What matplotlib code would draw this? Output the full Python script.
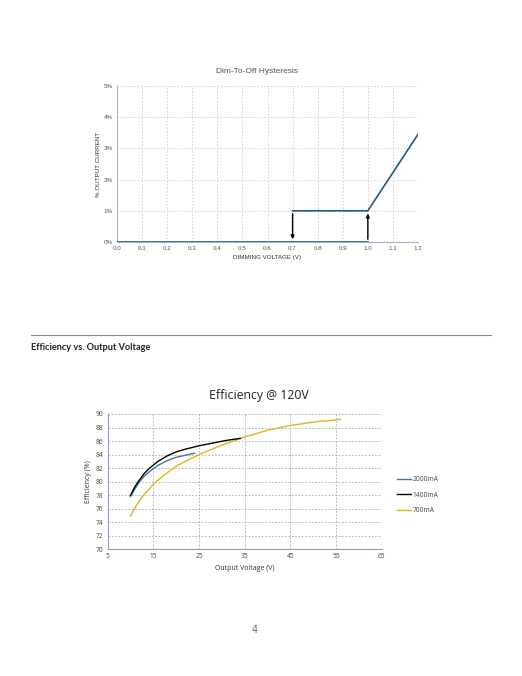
import matplotlib.pyplot as plt
from matplotlib.ticker import MultipleLocator, FuncFormatter

# Dim-to-off hysteresis data
dim_v = [0.0, 1.0]
dim_off = [0.0, 0.0]
dim_on_v = [0.7, 1.0, 1.2]
dim_on = [1.0, 1.0, 3.45]
arrow_down_x = 0.7
arrow_up_x = 1.0
hyst_level = 1.0

# Efficiency @ 120V data
v_2000 = [10, 11, 12, 13, 14, 16, 18, 20, 22, 24]
eff_2000 = [77.8, 79.0, 80.0, 80.8, 81.4, 82.4, 83.1, 83.6, 83.9, 84.2]
v_1400 = [10, 11, 12, 13, 14, 16, 18, 20, 22, 25, 28, 31, 34]
eff_1400 = [78.0, 79.3, 80.3, 81.2, 81.9, 83.0, 83.8, 84.4, 84.8, 85.3, 85.7, 86.1, 86.4]
v_700 = [10, 11, 12, 13, 15, 17, 20, 25, 30, 35, 40, 45, 50, 56]
eff_700 = [74.9, 76.2, 77.2, 78.1, 79.6, 80.8, 82.3, 84.0, 85.4, 86.6, 87.6, 88.3, 88.8, 89.2]

fig = plt.figure(figsize=(5.22, 6.76), dpi=100)

# ---- top chart ----
grey = '#555555'
ax1 = fig.add_axes([117/522, 1 - 242/676, 301/522, 156/676])
ax1.plot(dim_v, dim_off, color='#1d5a8a', lw=1.2, zorder=3)
ax1.plot(dim_on_v, dim_on, color='#1d5a8a', lw=1.2, zorder=3)
ax1.annotate('', xy=(arrow_down_x, 0.0), xytext=(arrow_down_x, hyst_level),
             arrowprops=dict(arrowstyle='-|>', color='black', lw=1.0, mutation_scale=5), zorder=4)
ax1.annotate('', xy=(arrow_up_x, hyst_level), xytext=(arrow_up_x, 0.0),
             arrowprops=dict(arrowstyle='-|>', color='black', lw=1.0, mutation_scale=5), zorder=4)
ax1.set_xlim(0, 1.2)
ax1.set_ylim(0, 5)
ax1.xaxis.set_major_locator(MultipleLocator(0.1))
ax1.yaxis.set_major_locator(MultipleLocator(1))
ax1.xaxis.set_major_formatter(FuncFormatter(lambda v, p: f'{v:.1f}'))
ax1.yaxis.set_major_formatter(FuncFormatter(lambda v, p: f'{v:.0f}%'))
ax1.grid(True, color='#cccccc', linestyle=(0, (2, 2)), linewidth=0.6)
for s in ['top', 'right']:
    ax1.spines[s].set_visible(False)
ax1.spines['left'].set_color('#9db4cc')
ax1.spines['bottom'].set_color('#9db4cc')
ax1.tick_params(length=0, labelsize=4.5, labelcolor=grey, pad=3)
for lab in ax1.get_xticklabels() + ax1.get_yticklabels():
    lab.set_family('Liberation Sans')
ax1.set_title('Dim-To-Off Hysteresis', fontsize=6, color=grey, family='Liberation Sans',
              pad=9, x=0.465)
ax1.set_xlabel('DIMMING VOLTAGE (V)', fontsize=4.5, color='#333333', family='Liberation Sans', labelpad=3)
ax1.set_ylabel('% OUTPUT CURRENT', fontsize=4.5, color='#333333', family='Liberation Sans', labelpad=2)

# ---- separator and section heading ----
fig.add_artist(plt.Line2D([31/522, 491/522], [1 - 335/676, 1 - 335/676], color='#888888', lw=0.8))
fig.text(31/522, 1 - 348/676, 'Efficiency vs. Output Voltage', fontsize=6.6, fontweight='bold',
         family='Lato', color='#222222', va='center')

# ---- bottom chart ----
ax2 = fig.add_axes([107.7/522, 1 - 549.3/676, 274/522, 135.3/676])
ax2.plot(v_2000, eff_2000, color='#3b78b0', lw=1.0, label='2000mA', zorder=3)
ax2.plot(v_1400, eff_1400, color='black', lw=1.0, label='1400mA', zorder=3)
ax2.plot(v_700, eff_700, color='#e2b31f', lw=1.0, label='700mA', zorder=2)
ax2.set_xlim(5, 65)
ax2.set_ylim(70, 90)
ax2.set_xticks([5, 15, 25, 35, 45, 55, 65])
ax2.set_yticks(range(70, 91, 2))
ax2.grid(True, color='#a8a8a8', linestyle=(0, (2, 2)), linewidth=0.6)
for s in ['top', 'right']:
    ax2.spines[s].set_visible(False)
ax2.spines['left'].set_color('#8aa2bc')
ax2.spines['bottom'].set_color('#8aa2bc')
ax2.tick_params(length=0, labelsize=4.8, labelcolor='#444444', pad=3)
for lab in ax2.get_xticklabels() + ax2.get_yticklabels():
    lab.set_family('Open Sans')
ax2.set_title('Efficiency @ 120V', fontsize=8.8, family='Open Sans', color='#222222',
              pad=11, x=0.55)
ax2.set_xlabel('Output Voltage (V)', fontsize=5, family='Open Sans', color='#333333', labelpad=3)
ax2.set_ylabel('Efficiency (%)', fontsize=5, family='Open Sans', color='#333333', labelpad=3)
ax2.legend(loc='center left', bbox_to_anchor=(1.035, 0.4), frameon=False,
           prop={'family': 'Open Sans', 'size': 4.8}, handlelength=2.1, handletextpad=0.15,
           labelspacing=1.25, labelcolor='#444444')

# ---- page number ----
fig.text(255/522, 1 - 630/676, '4', fontsize=7, color='#666666', ha='center', va='center')

fig.savefig('out.png', dpi=100)
